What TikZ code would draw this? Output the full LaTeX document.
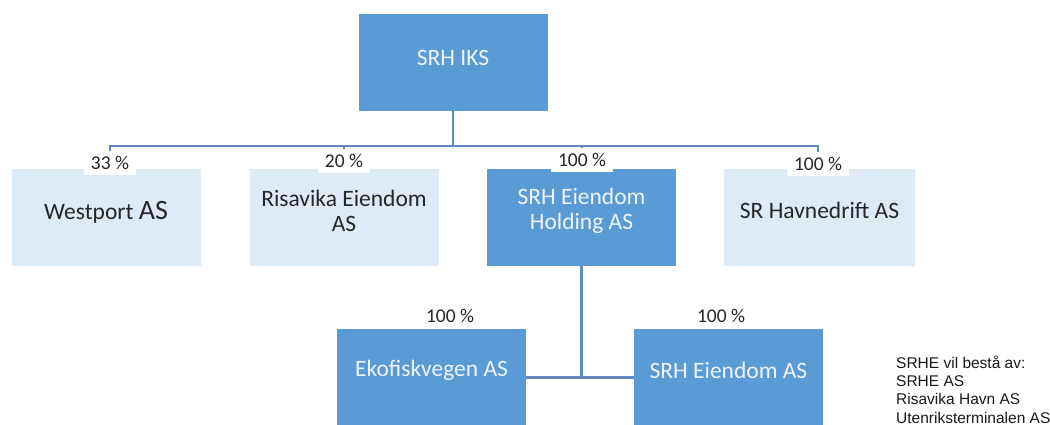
\documentclass[tikz,border=0pt]{standalone}
\usepackage{fontspec}
\setmainfont{Carlito}
\newfontfamily\arialf{Liberation Sans}
\definecolor{dblue}{HTML}{5B9BD5}
\definecolor{lblue}{HTML}{DEEBF7}
\definecolor{ltext}{HTML}{EEF5FC}
\definecolor{dtext}{HTML}{262626}
\definecolor{connc}{HTML}{6289BC}
\begin{document}
\begin{tikzpicture}[x=1pt,y=-1pt,
  darkbox/.style={fill=dblue, draw=none, minimum width=189pt, minimum height=97pt, inner sep=0pt},
  lightbox/.style={fill=lblue, draw=none, minimum width=189pt, minimum height=97pt, inner sep=0pt},
  boxtxt/.style={font=\fontsize{23.5}{25}\selectfont, align=center, inner sep=0pt},
  dtxt/.style={boxtxt, text=ltext},
  ltxt/.style={boxtxt, text=dtext},
  pct/.style={fill=white, font=\fontsize{19.5}{21}\selectfont, text=dtext, inner xsep=7pt, inner ysep=5pt},
  link/.style={draw=connc, line width=2.2pt},
  buslink/.style={draw=connc, line width=1.6pt},
  note/.style={font=\arialf\fontsize{15.5}{18}\selectfont, text=black!90, inner sep=0pt, anchor=base west}]
\useasboundingbox (0,0) rectangle (1050,425);

% boxes
\node[darkbox] (iks) at (453,62.5) {};
\node[lightbox] (west) at (106,217.5) {};
\node[lightbox] (risa) at (344,217.5) {};
\node[darkbox] (hold) at (581.5,217.5) {};
\node[lightbox, minimum width=191pt] (havn) at (819.5,217.5) {};
\node[darkbox] (eko) at (431.5,377.5) {};
\node[darkbox] (srhe) at (728.5,377.5) {};

% box texts
\node[dtxt, yshift=5pt] (iks-t) at (iks.center) {SRH IKS};
\node[ltxt, yshift=5pt] (west-t) at (west.center) {Westport {\fontsize{28}{28}\selectfont AS}};
\node[ltxt, yshift=7pt] (risa-t) at (risa.center) {Risavika Eiendom\\AS};
\node[dtxt, yshift=7pt] (hold-t) at (hold.center) {SRH Eiendom\\Holding AS};
\node[ltxt, yshift=7pt] (havn-t) at (havn.center) {SR Havnedrift AS};
\node[dtxt, yshift=7pt] (eko-t) at (eko.center) {Ekofiskvegen AS};
\node[dtxt, yshift=7pt] (srhe-t) at (srhe.center) {SRH Eiendom AS};

% percentage labels
\node[pct] (p1) at (110,163) {33 \%};
\node[pct] (p2) at (344,161) {20 \%};
\node[pct] (p3) at (582,160) {100 \%};
\node[pct] (p4) at (818,164) {100 \%};
\node[pct] (p5) at (450,316) {100 \%};
\node[pct] (p6) at (721,316) {100 \%};

% connectors
\path (iks.south) ++(0,35) coordinate (bj);
\draw[link] (iks.south) -- (bj);
\draw[buslink] (bj) -| (p1.north);
\draw[buslink] (bj) -| (p2.north);
\draw[buslink] (bj) -| (p3.north);
\draw[buslink] (bj) -| (p4.north);
\draw[link] (hold.south) |- (eko.east);
\draw[link] (hold.south) |- (srhe.west);

% note
\node[note] (n1) at (896,368) {SRHE vil bestå av:};
\node[note] (n2) at (896,386.3) {SRHE AS};
\node[note] (n3) at (896,404.7) {Risavika Havn AS};
\node[note] (n4) at (896,423) {Utenriksterminalen AS};
\end{tikzpicture}
\end{document}
